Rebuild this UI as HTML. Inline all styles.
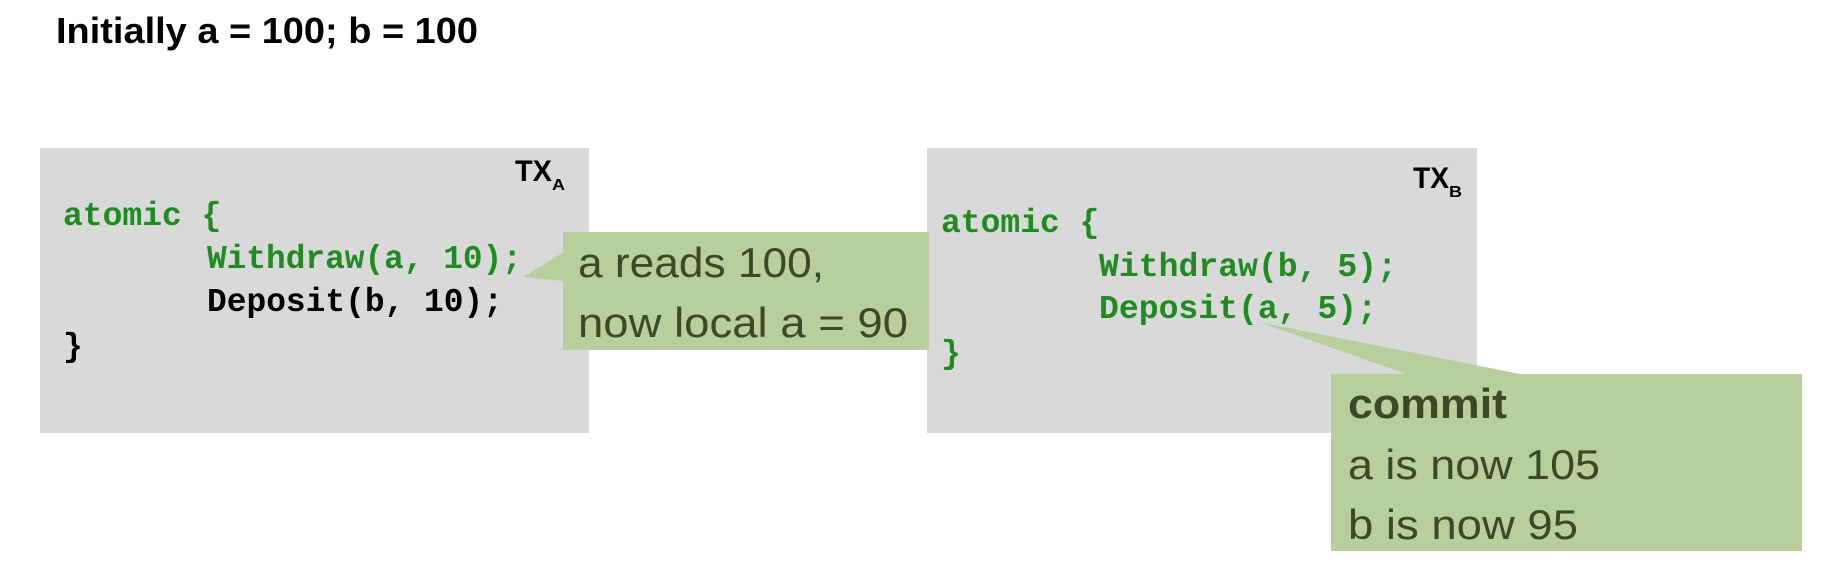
<!DOCTYPE html>
<html><head><meta charset="utf-8"><style>html,body{margin:0;padding:0;background:#fff}svg{display:block}</style></head>
<body>
<svg width="1836" height="584" viewBox="0 0 1836 584" xmlns="http://www.w3.org/2000/svg">
<text x="56" y="43" font-family="Liberation Sans, sans-serif" font-weight="bold" font-size="36" fill="#000" textLength="422" lengthAdjust="spacingAndGlyphs">Initially a = 100; b = 100</text>

<rect x="40" y="148" width="549" height="285" fill="#d9d9d9"/>
<text x="515" y="181" font-family="Liberation Sans, sans-serif" font-weight="bold" font-size="30" fill="#000" textLength="37" lengthAdjust="spacingAndGlyphs">TX</text>
<text x="552" y="190" font-family="Liberation Sans, sans-serif" font-weight="bold" font-size="16" fill="#000" textLength="13" lengthAdjust="spacingAndGlyphs">A</text>
<g font-family="Liberation Mono, monospace" font-weight="bold" font-size="33">
<text x="63" y="225" fill="#228a22">atomic {</text>
<text x="207" y="268" fill="#228a22" textLength="315" lengthAdjust="spacingAndGlyphs">Withdraw(a, 10);</text>
<text x="207" y="311" fill="#000" textLength="296" lengthAdjust="spacingAndGlyphs">Deposit(b, 10);</text>
<text x="63" y="356" fill="#000">}</text>
</g>

<rect x="927" y="148" width="550" height="285" fill="#d9d9d9"/>
<text x="1413" y="188" font-family="Liberation Sans, sans-serif" font-weight="bold" font-size="30" fill="#000" textLength="36" lengthAdjust="spacingAndGlyphs">TX</text>
<text x="1449" y="197" font-family="Liberation Sans, sans-serif" font-weight="bold" font-size="16" fill="#000" textLength="13" lengthAdjust="spacingAndGlyphs">B</text>
<g font-family="Liberation Mono, monospace" font-weight="bold" font-size="33" fill="#228a22">
<text x="941" y="232">atomic {</text>
<text x="1099" y="276" textLength="298" lengthAdjust="spacingAndGlyphs">Withdraw(b, 5);</text>
<text x="1099" y="318" textLength="278" lengthAdjust="spacingAndGlyphs">Deposit(a, 5);</text>
<text x="941" y="363">}</text>
</g>

<rect x="563" y="232" width="366" height="118" fill="#b8cf9c"/>
<polygon points="564,252 523,277 564,281" fill="#b8cf9c"/>
<g font-family="Liberation Sans, sans-serif" font-size="42" fill="#3a4a25">
<text x="578" y="277" textLength="246" lengthAdjust="spacingAndGlyphs">a reads 100,</text>
<text x="578" y="337" textLength="330" lengthAdjust="spacingAndGlyphs">now local a = 90</text>
</g>

<rect x="1331" y="374" width="471" height="177" fill="#b8cf9c"/>
<polygon points="1409,375 1259,322 1525,375" fill="#b8cf9c"/>
<g font-family="Liberation Sans, sans-serif" font-size="42" fill="#3a4a25">
<text x="1348" y="418" font-weight="bold" textLength="159" lengthAdjust="spacingAndGlyphs">commit</text>
<text x="1348" y="479" textLength="252" lengthAdjust="spacingAndGlyphs">a is now 105</text>
<text x="1348" y="539" textLength="230" lengthAdjust="spacingAndGlyphs">b is now 95</text>
</g>
</svg>
</body></html>
